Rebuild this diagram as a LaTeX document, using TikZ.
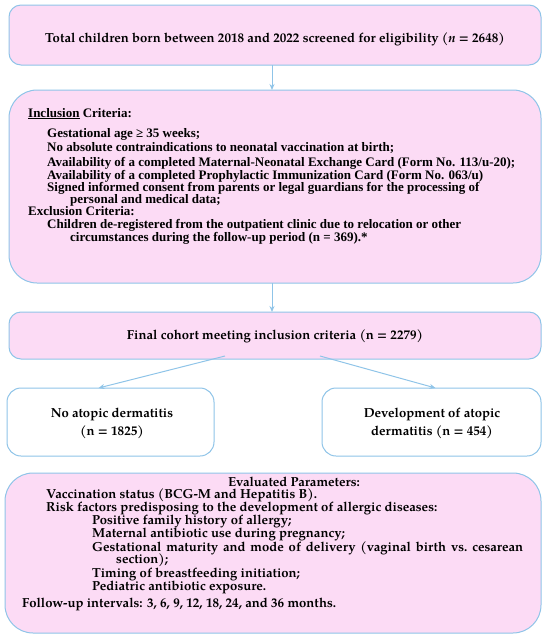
\documentclass[tikz,border=0pt]{standalone}
\usepackage{fontspec}
\setmainfont{Liberation Serif}
\newfontfamily\palfam{texgyrepagella}[Extension=.otf, UprightFont=*-bold, ItalicFont=*-bolditalic, BoldFont=*-bold, BoldItalicFont=*-bolditalic]
\usetikzlibrary{arrows.meta}
\definecolor{pinkfill}{RGB}{252,219,245}
\definecolor{bordblue}{RGB}{143,196,232}
\tikzset{
  boxbase/.style={draw=bordblue, line width=1pt, inner sep=0pt, outer sep=0pt, anchor=north west},
  pinkbox/.style={boxbase, fill=pinkfill, rounded corners=12pt},
  bigpink/.style={boxbase, fill=pinkfill, rounded corners=28pt},
  whitebox/.style={boxbase, fill=white, rounded corners=14pt},
  arr/.style={draw=bordblue, line width=1pt, -{Stealth[length=6pt,width=5pt]}},
  ptxt/.style={inner sep=0pt, font=\palfam\fontsize{13.1}{14}\selectfont},
  ttxt/.style={inner sep=0pt, font=\bfseries\fontsize{13}{14}\selectfont, anchor=base west},
}
\begin{document}
\begin{tikzpicture}[x=1pt,y=-1pt]
\useasboundingbox (0,0) rectangle (550,638);
% boxes
\node[pinkbox, minimum width=532pt, minimum height=60pt] (b1) at (9,5) {};
\node[bigpink, minimum width=532pt, minimum height=193pt] (b2) at (9,90) {};
\node[pinkbox, minimum width=532pt, minimum height=47pt] (b3) at (9,312) {};
\node[whitebox, minimum width=207pt, minimum height=68pt] (b4l) at (7,388) {};
\node[whitebox, minimum width=219pt, minimum height=68pt] (b4r) at (322,388) {};
\node[bigpink, minimum width=536pt, minimum height=160pt] (b5) at (5,473) {};
% arrows
\draw[arr] ([xshift=-3pt]b1.south) -- ([xshift=-3pt]b2.north);
\draw[arr] ([xshift=-3pt]b2.south) -- ([xshift=-3pt]b3.north);
\draw[arr] ([xshift=-50pt,yshift=3pt]b3.south) -- ([xshift=-12pt]b4l.north);
\draw[arr] ([xshift=45pt,yshift=3pt]b3.south) -- ([xshift=4pt]b4r.north);
% box 1 text
\node[ptxt, anchor=base] (t1) at (275,42) {Total children born between 2018 and 2022 screened for eligibility ({\itshape n} = 2648)};
% box 2 text
\node[ttxt] (i0) at (28,117) {\underline{Inclusion} Criteria:};
\node[ttxt] (i1) at (47,137) {Gestational age ≥ 35 weeks;};
\node[ttxt] (i2) at (47,151) {No absolute contraindications to neonatal vaccination at birth;};
\node[ttxt] (i3) at (47,166) {Availability of a completed Maternal-Neonatal Exchange Card (Form No. 113/u-20);};
\node[ttxt] (i4) at (47,179) {Availability of a completed Prophylactic Immunization Card (Form No. 063/u)};
\node[ttxt] (i5) at (47,191) {Signed informed consent from parents or legal guardians for the processing of};
\node[ttxt] (i6) at (70,203) {personal and medical data;};
\node[ttxt] (e0) at (28,215) {Exclusion Criteria:};
\node[ttxt] (e1) at (47,228) {Children de-registered from the outpatient clinic due to relocation or other};
\node[ttxt] (e2) at (70,241) {circumstances during the follow-up period (n = 369).*};
% box 3 text
\node[ptxt, anchor=base] (t3) at (275,339) {Final cohort meeting inclusion criteria (n = 2279)};
% box 4 text
\node[ptxt, anchor=base] (l1) at (112,417) {No atopic dermatitis};
\node[ptxt, anchor=base] (l2) at (112,435) {(n = 1825)};
\node[ptxt, anchor=base] (r1) at (432,417) {Development of atopic};
\node[ptxt, anchor=base] (r2) at (432,435) {dermatitis (n = 454)};
% box 5 text
\node[ptxt, anchor=base] (p0) at (294,486) {Evaluated Parameters:};
\node[ptxt, anchor=base west] (p1) at (46,498) {Vaccination status (BCG-M and Hepatitis B).};
\node[ptxt, anchor=base west] (p2) at (46,511) {Risk factors predisposing to the development of allergic diseases:};
\node[ptxt, anchor=base west] (p3) at (92,524) {Positive family history of allergy;};
\node[ptxt, anchor=base west] (p4) at (92,537) {Maternal antibiotic use during pregnancy;};
\node[ptxt, anchor=base west] (p5) at (92,551) {\makebox[431pt][s]{Gestational maturity and mode of delivery (vaginal birth vs.\ cesarean}};
\node[ptxt, anchor=base west] (p6) at (116,563) {section);};
\node[ptxt, anchor=base west] (p7) at (92,577) {Timing of breastfeeding initiation;};
\node[ptxt, anchor=base west] (p8) at (92,590) {Pediatric antibiotic exposure.};
\node[ptxt, anchor=base west] (p9) at (22,607) {Follow-up intervals: 3, 6, 9, 12, 18, 24, and 36 months.};
\end{tikzpicture}
\end{document}
